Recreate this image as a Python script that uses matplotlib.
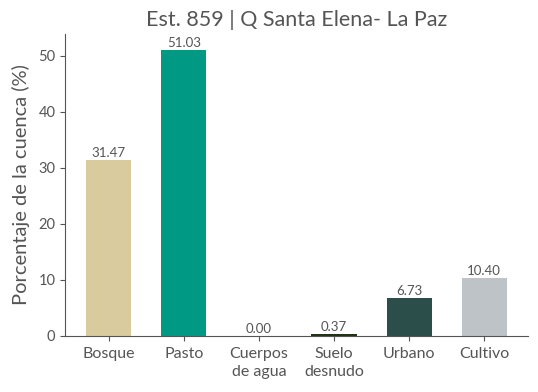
import matplotlib
matplotlib.use("Agg")
import matplotlib.pyplot as plt

#data
categorias = ["Bosque", "Pasto", "Cuerpos\nde agua", "Suelo\ndesnudo", "Urbano", "Cultivo"]
porcentajes = [31.47, 51.03, 0.00, 0.37, 6.73, 10.40]
colores = ["#d9cb9e", "#009a84", "#3a7fb5", "#1f3311", "#2c4e4b", "#bdc3c7"]

plt.rcParams['font.family'] = ['Lato', 'DejaVu Sans']
gris = "#555555"

fig = plt.figure(figsize=(5.38, 3.92), dpi=100)
ax = fig.add_axes([0.121, 0.143, 0.86, 0.770])

x = range(len(categorias))
barras = ax.bar(x, porcentajes, width=0.6, color=colores)
for b, v in zip(barras, porcentajes):
  ax.text(b.get_x() + b.get_width()/2, v + 0.2, f"{v:.2f}", ha="center", va="bottom",
          fontsize=9.5, color=gris)

ax.set_xticks(list(x))
ax.set_xticklabels(categorias, fontsize=11.5, color=gris, linespacing=1.35)
ax.tick_params(axis="x", color=gris, pad=4.5)
ax.tick_params(axis="y", labelsize=10.5, labelcolor=gris, color=gris)
ax.set_ylim(0, 53.9)
ax.set_yticks([0, 10, 20, 30, 40, 50])
ax.set_ylabel("Porcentaje de la cuenca (%)", fontsize=14.5, color=gris, labelpad=6)
ax.set_title("Est. 859 | Q Santa Elena- La Paz", fontsize=15.5, color=gris, pad=6)

for s in ["top", "right"]:
  ax.spines[s].set_visible(False)
for s in ["left", "bottom"]:
  ax.spines[s].set_color(gris)

fig.savefig("out.png", dpi=100)
